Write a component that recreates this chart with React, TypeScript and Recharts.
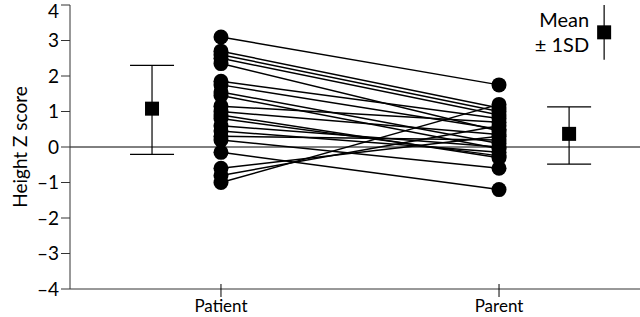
import { ScatterChart, Scatter, XAxis, YAxis, ReferenceLine, ErrorBar } from 'recharts';

// individual Z scores, paired by index (patient -> parent)
const patientZ = [3.1, 2.7, 2.6, 2.5, 2.35, 1.85, 1.75, 1.55, 1.45, 1.15, 1.0, 0.9, 0.8, 0.6, 0.45, 0.3, 0.2, -0.15, -0.6, -0.8, -1.0];
const parentZ = [1.75, 1.1, 1.0, 0.9, 0.45, 0.8, 0.5, 0.1, -0.05, 0.7, 0.35, -0.3, -0.25, 0.0, -0.15, 0.2, -0.6, -1.2, 0.3, 0.6, 1.2];

const groupX = [1, 2];
const groupLabels = ['Patient', 'Parent'];

// mean ± 1SD markers (x offset from group, mean, [below, above])
const meanX = [0.752, 2.252];
const meanY = [1.08, 0.37];
const meanErr = [[1.29, 1.22], [0.85, 0.76]];

// legend key
const keyX = 2.378;
const keyY = 3.23;
const keyErr = 0.77;
const keyText = ['Mean', '± 1SD'];

const yTicks = [-4, -3, -2, -1, 0, 1, 2, 3, 4];

const FONT = 'Lato, "Noto Sans", sans-serif';

const pairs = patientZ.map((p, i) => [
  { x: groupX[0], y: p },
  { x: groupX[1], y: parentZ[i] },
]);

const meanData = meanX.map((x, i) => ({ x, y: meanY[i], err: meanErr[i] }));
const keyData = [{ x: keyX, y: keyY, err: keyErr }];

const Dot = (props: any) => <circle cx={props.cx} cy={props.cy} r={7.5} fill="#000" />;

const Square = (props: any) => (
  <rect x={props.cx - 7} y={props.cy - 7} width={14} height={14} fill="#000" />
);

const KeyShape = (props: any) => (
  <g>
    <rect x={props.cx - 7} y={props.cy - 7} width={14} height={14} fill="#000" />
    <text x={props.cx - 15} y={props.cy - 5} textAnchor="end" fontSize={20} fontFamily={FONT} fill="#000">
      {keyText[0]}
    </text>
    <text x={props.cx - 15} y={props.cy + 20} textAnchor="end" fontSize={20} fontFamily={FONT} fill="#000">
      {keyText[1]}
    </text>
  </g>
);

const XTick = (props: any) => {
  const { x, y, payload } = props;
  const idx = groupX.indexOf(payload.value);
  return (
    <g>
      <line x1={x} x2={x} y1={y - 13} y2={y} stroke="#000" strokeWidth={1} />
      <text x={x} y={y + 15} textAnchor="middle" fontSize={17} fontFamily={FONT} fill="#000">
        {groupLabels[idx]}
      </text>
    </g>
  );
};

const fmtY = (v: number) => (v < 0 ? `–${Math.abs(v)}` : `${v}`);

export default function App() {
  return (
    <div style={{ width: 640, height: 317, background: '#fff' }}>
      <style>{'body{margin:0;}'}</style>
      <ScatterChart width={640} height={317} margin={{ top: 5, right: 0, left: 0, bottom: 0 }}>
        <XAxis
          type="number"
          dataKey="x"
          domain={[0.457, 2.507]}
          ticks={groupX}
          tick={<XTick />}
          tickLine={false}
          axisLine={{ stroke: '#333' }}
          height={28}
          allowDataOverflow
        />
        <YAxis
          type="number"
          dataKey="y"
          domain={[-4, 4]}
          ticks={yTicks}
          tickFormatter={fmtY}
          tick={{ fill: '#000', fontSize: 19, fontFamily: FONT }}
          tickLine={{ stroke: '#333' }}
          tickSize={9}
          axisLine={{ stroke: '#333' }}
          width={70}
          label={{
            value: 'Height Z score',
            angle: -90,
            position: 'insideLeft',
            offset: 20,
            style: { textAnchor: 'middle', fontSize: 19, fontFamily: FONT, fill: '#000' },
          }}
        />
        <ReferenceLine y={0} stroke="#000" strokeWidth={1} />
        {pairs.map((d, i) => (
          <Scatter
            key={i}
            data={d}
            line={{ stroke: '#000', strokeWidth: 1.5 }}
            shape={<Dot />}
            isAnimationActive={false}
          />
        ))}
        <Scatter data={meanData} shape={<Square />} isAnimationActive={false}>
          <ErrorBar dataKey="err" direction="y" width={22} stroke="#000" strokeWidth={1.2} />
        </Scatter>
        <Scatter data={keyData} shape={<KeyShape />} isAnimationActive={false}>
          <ErrorBar dataKey="err" direction="y" width={0} stroke="#000" strokeWidth={1.2} />
        </Scatter>
      </ScatterChart>
    </div>
  );
}
